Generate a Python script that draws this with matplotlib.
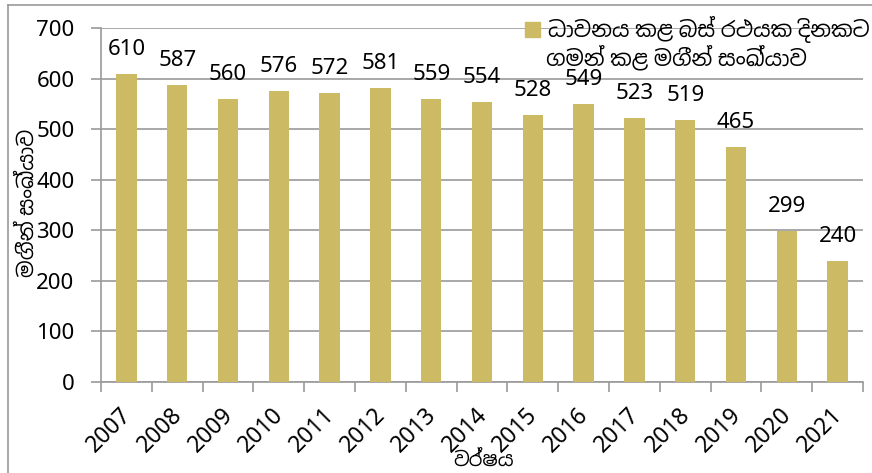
import matplotlib
matplotlib.use("Agg")
import matplotlib.pyplot as plt
from matplotlib.lines import Line2D
from matplotlib.transforms import ScaledTranslation
from matplotlib import font_manager
import os

years = ["2007", "2008", "2009", "2010", "2011", "2012", "2013", "2014",
         "2015", "2016", "2017", "2018", "2019", "2020", "2021"]
passengers = [610, 587, 560, 576, 572, 581, 559, 554, 528, 549, 523, 519, 465, 299, 240]
legend_line1 = "ධාවනය කළ බස් රථයක දිනකට"
legend_line2 = "ගමන් කළ මගීන් සංඛ්‍යාව"
y_label = "මගීන් සංඛ්‍යාව"
x_label = "වර්ෂය"

sinhala_fam = []
for p in ["/usr/share/fonts/truetype/google-fonts/NotoSansSinhala[wdth,wght].ttf"]:
    if os.path.exists(p):
        font_manager.fontManager.addfont(p)
        sinhala_fam.append(font_manager.FontProperties(fname=p).get_name())
fams = ['Noto Sans'] + sinhala_fam + ['DejaVu Sans']
plt.rcParams['font.family'] = fams

bar_color = "#CDBA64"
grid_color = "#9A9A9A"
FS = 16

fig = plt.figure(figsize=(8.72, 4.73), dpi=100)
ax = fig.add_axes([101/872, 1 - 382/473, (863 - 101)/872, (382 - 28)/473])

x = list(range(len(years)))
ax.bar(x, passengers, width=0.4, color=bar_color, zorder=3)
for xi, v in zip(x, passengers):
    ax.annotate(str(v), (xi, v), xytext=(0, 10), textcoords="offset points",
                ha="center", va="bottom", fontsize=FS, color="black", zorder=4)

ax.set_xlim(-0.5, len(years) - 0.5)
ax.set_ylim(0, 700)
ax.set_yticks(range(0, 701, 100))
ax.yaxis.grid(True, color=grid_color, linewidth=1.2, zorder=0)
ax.set_axisbelow(True)

ax.set_xticks([i + 0.5 for i in range(-1, len(years))], minor=False)
ax.set_xticklabels([""] * (len(years) + 1))
ax.set_xticks(x, minor=True)
ax.set_xticklabels(years, minor=True, rotation=45, ha="right", va="top",
                   rotation_mode="anchor", fontsize=FS + 0.5)
ax.tick_params(axis="x", which="major", length=7, color=grid_color, width=1.2)
ax.tick_params(axis="x", which="minor", length=0, pad=10)
ax.tick_params(axis="y", length=7, color=grid_color, width=1.2, labelsize=FS, pad=12)
offset = ScaledTranslation(-7/100, -7/100, fig.dpi_scale_trans)
for lab in ax.xaxis.get_minorticklabels():
    lab.set_transform(lab.get_transform() + offset)

for s in ["top", "right"]:
    ax.spines[s].set_visible(False)
for s in ["left", "bottom"]:
    ax.spines[s].set_color(grid_color)
    ax.spines[s].set_linewidth(1.2)

fig.text(28/872, 1 - 203/473, y_label, rotation=90, ha="center", va="center", fontsize=15)
fig.text(484/872, 1 - 461/473, x_label, ha="center", va="center", fontsize=14)

handle = plt.Rectangle((0, 0), 1, 1, color=bar_color)
fig.legend([handle], [legend_line1], loc="upper left", bbox_to_anchor=(525/872, 1 - 16/473),
           frameon=False, fontsize=15.5, handlelength=0.7, handleheight=0.7, handletextpad=0.35,
           borderaxespad=0, borderpad=0)
fig.text(546/872, 1 - 58/473, legend_line2, ha="left", va="center", fontsize=15.5)

fig.add_artist(Line2D([8/872, 1], [1 - 5/473, 1 - 5/473], color=grid_color, linewidth=1.2,
                      transform=fig.transFigure))
fig.add_artist(Line2D([8/872, 8/872], [0, 1 - 5/473], color=grid_color, linewidth=1.2,
                      transform=fig.transFigure))

fig.savefig("out.png", dpi=100)
